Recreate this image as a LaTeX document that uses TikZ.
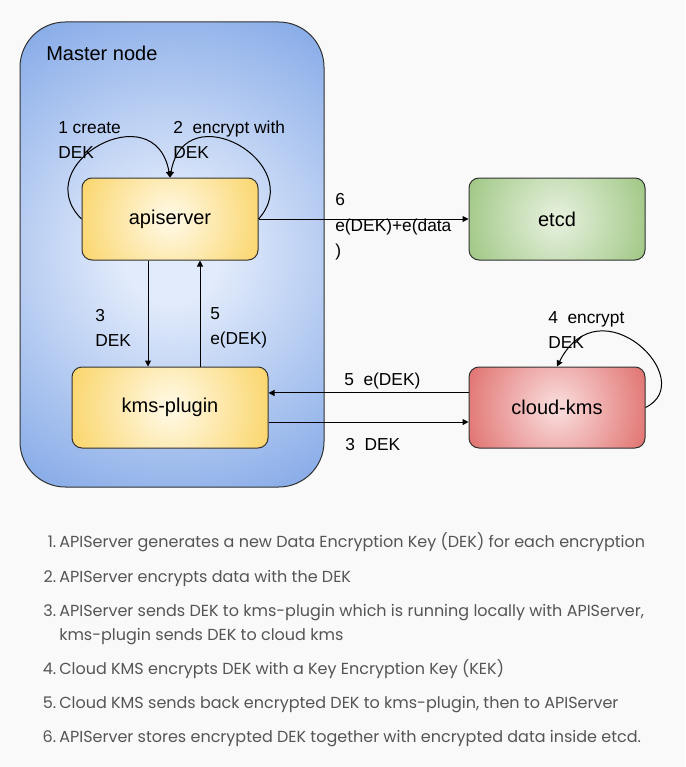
\documentclass[tikz,border=0pt]{standalone}
\usepackage{fontspec}
\setmainfont{Liberation Sans}
\newfontfamily\listfont{Poppins}
\usetikzlibrary{arrows.meta}

\definecolor{pagebg}{HTML}{F9F9F9}
\definecolor{listgrey}{HTML}{555555}
\definecolor{masterIn}{HTML}{E2EBFB}
\definecolor{masterOut}{HTML}{7AA2E5}
\definecolor{plugIn}{HTML}{FFF7DE}
\definecolor{plugOut}{HTML}{FAD466}
\definecolor{etcdIn}{HTML}{E2EED8}
\definecolor{etcdOut}{HTML}{98C37B}
\definecolor{kmsIn}{HTML}{F8D6D6}
\definecolor{kmsOut}{HTML}{DF6D6A}

% radial fills, light centre, full colour at the rim (25bp)
\pgfdeclareradialshading{masterglow}{\pgfpointorigin}{color(0bp)=(masterIn); color(4bp)=(masterIn); color(25bp)=(masterOut); color(50bp)=(masterOut)}
\pgfdeclareradialshading{plugglow}{\pgfpointorigin}{color(0bp)=(plugIn); color(2bp)=(plugIn); color(25bp)=(plugOut); color(50bp)=(plugOut)}
\pgfdeclareradialshading{etcdglow}{\pgfpointorigin}{color(0bp)=(etcdIn); color(2bp)=(etcdIn); color(25bp)=(etcdOut); color(50bp)=(etcdOut)}
\pgfdeclareradialshading{kmsglow}{\pgfpointorigin}{color(0bp)=(kmsIn); color(2bp)=(kmsIn); color(25bp)=(kmsOut); color(50bp)=(kmsOut)}

\begin{document}
\begin{tikzpicture}[
    x=0.75pt, y=-0.75pt,
    >={Triangle[length=4.5pt,width=4.5pt]},
    every node/.style={font=\fontsize{13}{18.5}\selectfont, text=black},
    glow/.style n args={3}{fill=#3, path picture={
        \shade[shading=#1] (path picture bounding box.center) circle (#2);}},
    box/.style={draw=black!80, line width=0.75pt, rounded corners=7.5pt,
        minimum width=132pt, minimum height=61.5pt, font=\fontsize{15}{18}\selectfont},
    flow/.style={->, line width=0.75pt},
    lbl/.style={anchor=west, align=left, inner sep=0pt},
    itemnum/.style={anchor=base east, inner sep=0pt, text=listgrey, font=\listfont\fontsize{12}{14}\selectfont},
    itemtext/.style={anchor=base west, inner sep=0pt, text=listgrey, font=\listfont\fontsize{12}{14}\selectfont}
]

% Page
\fill[pagebg] (0,0) rectangle (685,767);
\useasboundingbox (0,0) rectangle (685,767);

% Master node
\node[draw=black!80, line width=0.75pt, rounded corners=34pt, glow={masterglow}{225pt}{masterOut},
    minimum width=228pt, minimum height=348.75pt] (master) at (172,254.5) {};
\node[lbl, font=\fontsize{15}{18}\selectfont] (mastertitle) at (46,53) {Master node};

% Components
\node[box, glow={plugglow}{76pt}{plugOut}] (apiserver) at (170,219) {apiserver};
\node[box, glow={plugglow}{82pt}{plugOut}, minimum width=147pt, minimum height=60.75pt] (kmsplugin) at (170,407.5) {kms-plugin};
\node[box, glow={etcdglow}{80pt}{etcdOut}] (etcd) at (557,219) {etcd};
\node[box, glow={kmsglow}{76pt}{kmsOut}, minimum height=60.75pt] (cloudkms) at (557,407.5) {cloud-kms};

% Self loops
\draw[flow] (apiserver.west) .. controls +(-55,-55) and +(-15,-85) .. (apiserver.north);
\draw[flow] (apiserver.east) .. controls +(50,-55) and +(15,-85) .. (apiserver.north);
\draw[flow] (cloudkms.east) .. controls +(55,-27) and +(43,-85) .. (cloudkms.north);

% Connectors
\draw[flow] (apiserver.east) -- (etcd.west);
\draw[flow] ([xshift=-16.5pt]apiserver.south) -- ([xshift=-16.5pt]kmsplugin.north);
\draw[flow] ([xshift=22.5pt]kmsplugin.north) -- ([xshift=22.5pt]apiserver.south);
\draw[flow] ([yshift=10.9pt]cloudkms.west) -- ([yshift=10.9pt]kmsplugin.east);
\draw[flow] ([yshift=-10.9pt]kmsplugin.east) -- ([yshift=-10.9pt]cloudkms.west);

% Labels
\node[lbl] (l1) at (58,140) {1 create\\DEK};
\node[lbl] (l2) at (173,140) {2~~encrypt with\\DEK};
\node[lbl] (l3) at (95,328) {3\\DEK};
\node[lbl] (l5) at (210,328) {5\\e(DEK)};
\node[lbl, font=\fontsize{13}{19}\selectfont] (l6) at (335,227) {6\\e(DEK)+e(data\\)};
\node[lbl] (l4) at (548,330) {4~~encrypt\\DEK};
\node[lbl] (l5b) at (344,381) {5~~e(DEK)};
\node[lbl] (l3b) at (345,445) {3~~DEK};

% Steps
\foreach \n/\y/\t in {
    1/547.5/{APIServer generates a new Data Encryption Key (DEK) for each encryption},
    2/582/{APIServer encrypts data with the DEK},
    3/616/{APIServer sends DEK to kms-plugin which is running locally with APIServer,},
    4/674/{Cloud KMS encrypts DEK with a Key Encryption Key (KEK)},
    5/708/{Cloud KMS sends back encrypted DEK to kms-plugin, then to APIServer},
    6/742/{APIServer stores encrypted DEK together with encrypted data inside etcd.}} {
    \node[itemnum] (num\n) at (56.5,\y) {\n.};
    \node[itemtext] (step\n) at (59,\y) {\t};
}
\node[itemtext] (step3b) at (59,640) {kms-plugin sends DEK to cloud kms};

\end{tikzpicture}
\end{document}
